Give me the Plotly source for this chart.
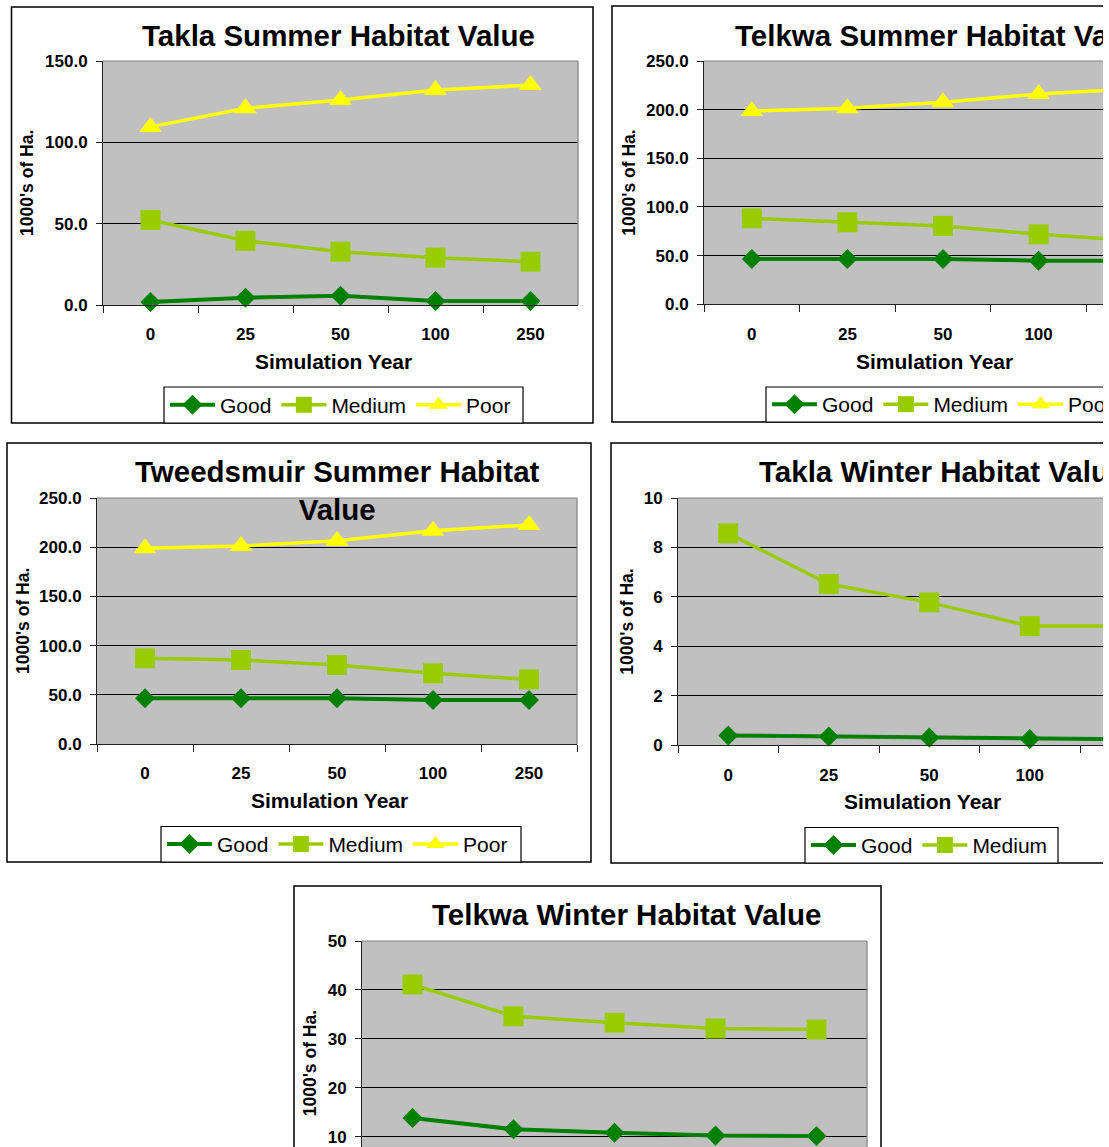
import plotly.graph_objects as go

# Simulation years (categorical x axis shared by every panel)
years = ["0", "25", "50", "100", "250"]

# Habitat area, thousands of hectares
takla_summer_good = [1.8, 4.5, 5.7, 2.5, 2.5]
takla_summer_medium = [52.3, 39.5, 32.8, 29.1, 26.6]
takla_summer_poor = [109.5, 120.9, 126.0, 132.1, 135.2]

telkwa_summer_good = [46.5, 46.5, 46.5, 44.8, 44.8]
telkwa_summer_medium = [88.4, 84.3, 80.5, 71.9, 65.4]
telkwa_summer_poor = [198.7, 201.4, 207.6, 216.1, 221.4]

tweedsmuir_summer_good = [46.4, 46.4, 46.4, 44.7, 44.7]
tweedsmuir_summer_medium = [87.1, 85.4, 80.3, 71.8, 65.7]
tweedsmuir_summer_poor = [198.9, 201.2, 206.6, 216.8, 222.6]

takla_winter_good = [0.40, 0.36, 0.31, 0.25, 0.24]
takla_winter_medium = [8.57, 6.52, 5.78, 4.82, 4.82]

telkwa_winter_good = [13.8, 11.5, 10.8, 10.2, 10.1]
telkwa_winter_medium = [41.1, 34.6, 33.3, 32.1, 31.9]

series_names = ["Good", "Medium", "Poor"]
x_title = "Simulation Year"
y_title = "1000's of Ha."

W, H = 1103, 1147
FONT = "Liberation Sans, Arial, sans-serif"

COLORS = {"Good": "#008000", "Medium": "#99CC00", "Poor": "#FFFF00"}
SYMBOLS = {"Good": "diamond", "Medium": "square", "Poor": "triangle-up"}
SIZES = {"Good": 15.4, "Medium": 20, "Poor": 20}
WIDTHS = {"Good": 4, "Medium": 3.5, "Poor": 3.5}


def fx(p):
    return p / W


def fy(p):
    return 1 - p / H


panels = [
    dict(title="Takla Summer Habitat Value", tx=338.5, ty=35, tanchor="center",
         data=[takla_summer_good, takla_summer_medium, takla_summer_poor],
         box=(11.5, 7, 593, 423), plot=(103, 61, 578, 305), cat_w=95,
         yrange=(0, 150), dtick=50, fmt=".1f", ytx=27,
         xtitle=(333, 361), legend=(164, 387, 523, 423)),
    dict(title="Telkwa Summer Habitat Value", tx=733, ty=35, tanchor="left",
         data=[telkwa_summer_good, telkwa_summer_medium, telkwa_summer_poor],
         box=(612, 6, 1400, 422), plot=(704, 61, 1182, 304.3), cat_w=95.6,
         yrange=(0, 250), dtick=50, fmt=".1f", ytx=629,
         xtitle=(934.5, 361), legend=(766, 387, 1400, 422)),
    dict(title="Tweedsmuir Summer Habitat<br>Value", tx=337, ty=490.5, tanchor="center",
         data=[tweedsmuir_summer_good, tweedsmuir_summer_medium, tweedsmuir_summer_poor],
         box=(7, 443, 591, 862), plot=(97, 498, 577, 744), cat_w=96,
         yrange=(0, 250), dtick=50, fmt=".1f", ytx=23,
         xtitle=(329, 800), legend=(161, 826.5, 521, 862)),
    dict(title="Takla Winter Habitat Value", tx=757, ty=471, tanchor="left",
         data=[takla_winter_good, takla_winter_medium],
         box=(611, 443, 1400, 863), plot=(678, 498, 1180, 745.3), cat_w=100.5,
         yrange=(0, 10), dtick=2, fmt="d", ytx=627,
         xtitle=(922, 801.5), legend=(805, 827.5, 1058, 863)),
    dict(title="Telkwa Winter Habitat Value", tx=626, ty=914, tanchor="center",
         data=[telkwa_winter_good, telkwa_winter_medium],
         box=(294, 886, 881, 1400), plot=(362, 941, 867, 1185.5), cat_w=101,
         yrange=(0, 50), dtick=10, fmt="d", ytx=310,
         xtitle=None, legend=None),
]

fig = go.Figure()
shapes = []
annotations = []
layout = {}

for i, p in enumerate(panels):
    n = "" if i == 0 else str(i + 1)
    xa, ya = "x" + n, "y" + n
    leg = "legend" + n
    x0, y0, x1, y1 = p["plot"]
    # visible part of the plot area (some panels run past the page edge)
    vx1, vy1 = min(x1, W), min(y1, H)
    ncat_visible = (vx1 - x0) / p["cat_w"]
    lo, hi = p["yrange"]
    ylo = hi - (vy1 - y0) / (y1 - y0) * (hi - lo)

    for name, vals in zip(series_names, p["data"]):
        fig.add_trace(go.Scatter(
            x=years, y=vals, name=name, mode="lines+markers",
            xaxis=xa, yaxis=ya,
            line=dict(color=COLORS[name], width=WIDTHS[name]),
            marker=dict(symbol=SYMBOLS[name], size=SIZES[name],
                        color=COLORS[name], line=dict(width=0)),
            cliponaxis=False,
            legend=leg, showlegend=p["legend"] is not None,
        ))

    layout["xaxis" + n] = dict(
        type="category", domain=[fx(x0), fx(vx1)], anchor=ya,
        range=[-0.5, -0.5 + ncat_visible],
        showline=True, linecolor="#222222", linewidth=1,
        ticks="outside", ticklen=7, tickcolor="#222222", tickson="boundaries",
        showgrid=False, zeroline=False, ticklabelstandoff=14,
        showticklabels=p["xtitle"] is not None,
        tickfont=dict(family=FONT, size=17, weight="bold", color="black"),
    )
    layout["yaxis" + n] = dict(
        domain=[fy(vy1), fy(y0)], anchor=xa, range=[ylo, hi],
        dtick=p["dtick"], tick0=0, tickformat=p["fmt"],
        showline=True, linecolor="#222222", linewidth=1,
        ticks="outside", ticklen=6, tickcolor="#222222",
        showgrid=True, gridcolor="black", gridwidth=1, zeroline=False,
        ticklabelstandoff=5,
        tickfont=dict(family=FONT, size=17, weight="bold", color="black"),
    )

    # chart frame
    bx0, by0, bx1, by1 = p["box"]
    shapes.append(dict(type="rect", xref="paper", yref="paper",
                       x0=fx(bx0), x1=fx(bx1), y0=fy(by1), y1=fy(by0),
                       line=dict(color="black", width=1.5), layer="below"))
    # grey plot-area border on the top and right sides
    shapes.append(dict(type="line", xref="paper", yref="paper",
                       x0=fx(x0), x1=fx(x1), y0=fy(y0), y1=fy(y0),
                       line=dict(color="#808080", width=1.2), layer="above"))
    if x1 <= W:
        shapes.append(dict(type="line", xref="paper", yref="paper",
                           x0=fx(x1), x1=fx(x1), y0=fy(min(y1, H)), y1=fy(y0),
                           line=dict(color="#808080", width=1.2), layer="above"))

    annotations.append(dict(
        text=p["title"], xref="paper", yref="paper",
        x=fx(p["tx"]), y=fy(p["ty"]), xanchor=p["tanchor"], yanchor="middle",
        showarrow=False, align="center",
        font=dict(family=FONT, size=29.5, weight="bold", color="black"),
    ))
    annotations.append(dict(
        text=y_title, xref="paper", yref="paper", textangle=-90,
        x=fx(p["ytx"]), y=fy((y0 + y1) / 2), xanchor="center", yanchor="middle",
        showarrow=False,
        font=dict(family=FONT, size=17.5, weight="bold", color="black"),
    ))
    if p["xtitle"] is not None:
        annotations.append(dict(
            text=x_title, xref="paper", yref="paper",
            x=fx(p["xtitle"][0]), y=fy(p["xtitle"][1]),
            xanchor="center", yanchor="middle", showarrow=False,
            font=dict(family=FONT, size=21, weight="bold", color="black"),
        ))
    if p["legend"] is not None:
        lx0, ly0, lx1, ly1 = p["legend"]
        # legend frame
        shapes.append(dict(type="rect", xref="paper", yref="paper",
                           x0=fx(lx0), x1=fx(lx1), y0=fy(ly1), y1=fy(ly0),
                           fillcolor="white",
                           line=dict(color="black", width=1.2), layer="below"))
        layout[leg] = dict(
            visible=True,
            orientation="h", x=fx(lx0 + 1), y=fy((ly0 + ly1) / 2),
            xanchor="left", yanchor="middle",
            bgcolor="rgba(0,0,0,0)", borderwidth=0,
            itemwidth=45, tracegroupgap=0,
            font=dict(family=FONT, size=21, color="black"),
        )

fig.update_layout(
    width=W, height=H, showlegend=True,
    margin=dict(l=0, r=0, t=0, b=0, pad=0, autoexpand=False),
    paper_bgcolor="white", plot_bgcolor="#C0C0C0",
    font=dict(family=FONT, color="black"),
    shapes=shapes, annotations=annotations,
    **layout,
)

fig.write_html("out.html")
